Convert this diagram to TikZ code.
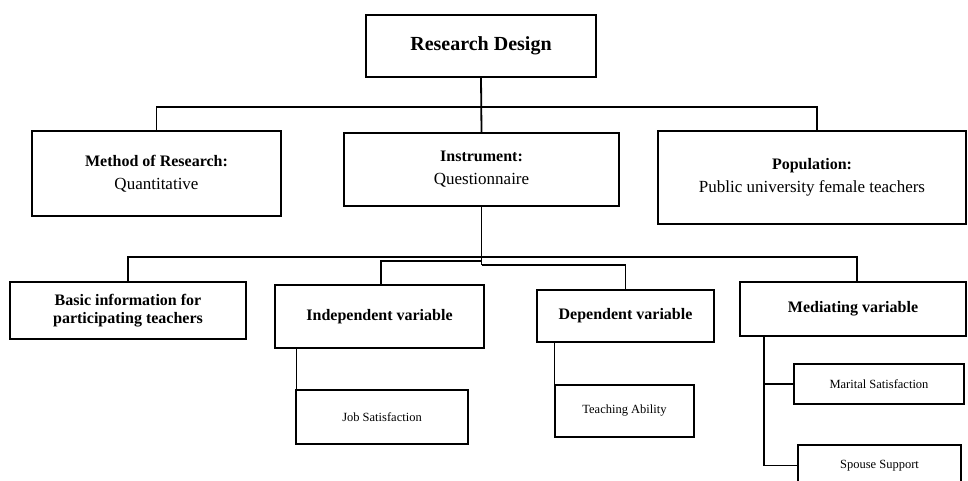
\documentclass[tikz,border=0pt]{standalone}
\usepackage{fontspec}
\setmainfont{Liberation Serif}
\begin{document}
\begin{tikzpicture}[x=1pt,y=-1pt,
  box/.style={draw=black,line width=1.4pt,inner sep=0pt,align=center,
    fill=white},
  big/.style={font=\fontsize{20}{24}\selectfont\bfseries},
  head/.style={font=\fontsize{16}{17.5}\selectfont\bfseries},
  two/.style={font=\fontsize{17}{23}\selectfont},
  small/.style={font=\fontsize{12.5}{15}\selectfont},
  link/.style={draw=black,line width=1.3pt},
  trunk/.style={draw=black,line width=1.8pt}]
\clip (0,0) rectangle (968,480);
\fill[white] (0,0) rectangle (968,480);

% top level
\node[box,big,minimum width=230pt,minimum height=62pt] (rd) at (481,46) {Research Design};

% second level
\node[box,two,minimum width=249pt,minimum height=85pt] (meth) at (156.5,173.5)
  {{\fontsize{16}{23}\selectfont\bfseries Method of Research:}\\Quantitative};
\node[box,two,minimum width=275pt,minimum height=73pt] (inst) at (481.5,169.5)
  {{\fontsize{16}{23}\selectfont\bfseries Instrument:}\\Questionnaire};
\node[box,two,minimum width=308pt,minimum height=93pt] (pop) at (812,177.5)
  {{\fontsize{16}{23}\selectfont\bfseries Population:}\\Public university female teachers};

% third level
\node[box,head,minimum width=236pt,minimum height=57pt] (basic) at (128,310.5)
  {Basic information for\\participating teachers};
\node[box,head,minimum width=209pt,minimum height=63pt] (ind) at (379.5,316.5) {Independent variable};
\node[box,head,minimum width=177pt,minimum height=52pt] (dep) at (625.5,316) {Dependent variable};
\node[box,head,minimum width=226pt,minimum height=54pt] (med) at (853,309) {Mediating variable};

% fourth level
\node[box,small,minimum width=172pt,minimum height=54pt] (job) at (382,417) {Job Satisfaction};
\node[box,small,minimum width=139pt,minimum height=52pt] (tea) at (624.5,411) {Teaching Ability};
\node[box,small,minimum width=170pt,minimum height=40pt] (mar) at (879,384) {Marital Satisfaction};
\node[box,small,minimum width=163pt,minimum height=41pt] (sp) at (879.5,465.5) {Spouse Support};

% bus levels
\coordinate (busA) at (0,107);
\coordinate (busB) at (0,257);
\coordinate (busC) at (0,261);
\coordinate (busD) at (0,265);
\coordinate (mv) at (764,0);

% connectors
\draw[trunk] (rd.south) -- (inst.north);
\draw[link] (meth.north) -- (meth.north |- busA) -| ([xshift=5pt]pop.north);
\draw[trunk] (inst.south) -- (inst.south |- busD);
\draw[link] (basic.north) -- (basic.north |- busB) -| ([xshift=4pt]med.north);
\draw[link] ([xshift=1.5pt]ind.north) -- ([xshift=1.5pt]ind.north |- busC) -- (inst.south |- busC);
\draw[link] (inst.south |- busD) -| (dep.north);
\draw[link] ([xshift=1pt]job.north west) -- ([xshift=1pt]job.north west |- ind.south);
\draw[link] (tea.north west) -- (tea.north west |- dep.south);
\draw[link] (mv |- med.south) |- (sp.west);
\draw[link] (mv |- mar.west) -- (mar.west);
\end{tikzpicture}
\end{document}
